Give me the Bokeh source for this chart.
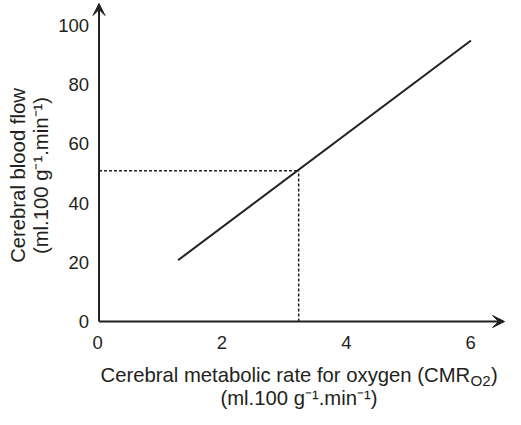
import math
from bokeh.plotting import figure
from bokeh.models import Arrow, VeeHead, Label, Range1d, ColumnDataSource
from bokeh.core.properties import value
from bokeh.embed import file_html
from bokeh.resources import INLINE

# ---- data ----
cmro2 = [1.27, 5.98]        # ml.100 g-1.min-1
cbf = [20.7, 94.9]          # ml.100 g-1.min-1
ref_cmro2 = 3.21
ref_cbf = 50.9
x_ticks = [0, 2, 4, 6]
y_ticks = [0, 20, 40, 60, 80, 100]
x_tick_labels = ["0", "2", "4", "6"]
y_tick_labels = ["0", "20", "40", "60", "80", "100"]
x_title = "Cerebral metabolic rate for oxygen (CMR"
x_title_sub = "O2"
x_title_end = ")"
y_title = "Cerebral blood flow"
unit_title = "(ml.100 g\u207b\u00b9.min\u207b\u00b9)"

INK = "#231f20"
FONT = "Liberation Sans"
W, H = 505, 409
# axis extents (where the arrow tips sit)
X_TIP, Y_TIP = 6.52, 107.4

p = figure(width=W, height=H, output_backend="svg", toolbar_location=None,
           x_range=Range1d(-1.584, 6.535), y_range=Range1d(-29.7, 108.4),
           x_axis_location=None, y_axis_location=None,
           min_border=0)
p.outline_line_color = None
p.grid.grid_line_color = None
p.background_fill_color = "white"
p.border_fill_color = "white"

# axis lines with arrow heads
head = dict(size=12, fill_color=INK, line_color=INK, line_width=1)
p.add_layout(Arrow(end=VeeHead(**head), x_start=0, y_start=0, x_end=0, y_end=Y_TIP,
                   line_width=2, line_color=INK))
p.add_layout(Arrow(end=VeeHead(**head), x_start=0, y_start=0, x_end=X_TIP, y_end=0,
                   line_width=2, line_color=INK))

# tick labels
xs = ColumnDataSource(dict(x=x_ticks, y=[0] * len(x_ticks), t=x_tick_labels))
ys = ColumnDataSource(dict(x=[0] * len(y_ticks), y=y_ticks, t=y_tick_labels))
p.text("x", "y", text="t", source=xs, text_font=value(FONT), text_font_size="18.5px",
       text_color=INK, text_align="center", text_baseline="middle",
       x_offset=-1.5, y_offset=21)
p.text("x", "y", text="t", source=ys, text_font=value(FONT), text_font_size="18.5px",
       text_color=INK, text_align="right", text_baseline="middle", x_offset=-10)

# data line
p.line(cmro2, cbf, line_width=2, line_color=INK)
# reference dashed lines
p.line([0, ref_cmro2], [ref_cbf, ref_cbf], line_width=1.5, line_color=INK, line_dash="3 2")
p.line([ref_cmro2, ref_cmro2], [0, ref_cbf], line_width=1.5, line_color=INK, line_dash="3 2")

# axis titles (screen units, origin bottom-left of the canvas)
TF = "20.3px"
def lab(text, x, y, size=TF, align="left", baseline="alphabetic", angle=0.0):
    p.add_layout(Label(text=text, x=x, y=y, x_units="screen", y_units="screen",
                       text_font=FONT, text_font_size=size, text_color=INK,
                       text_align=align, text_baseline=baseline, angle=angle))

lab(y_title, 17, 234, align="center", baseline="middle", angle=math.pi / 2)
lab(unit_title, 40.5, 234, align="center", baseline="middle", angle=math.pi / 2)
lab(x_title, 100, 35)
lab(x_title_sub, 470, 29, size="15.2px")
lab(x_title_end, 490.5, 35)
lab(unit_title, 298.5, 12, align="center")

open("out.html", "w").write(file_html(p, INLINE))
